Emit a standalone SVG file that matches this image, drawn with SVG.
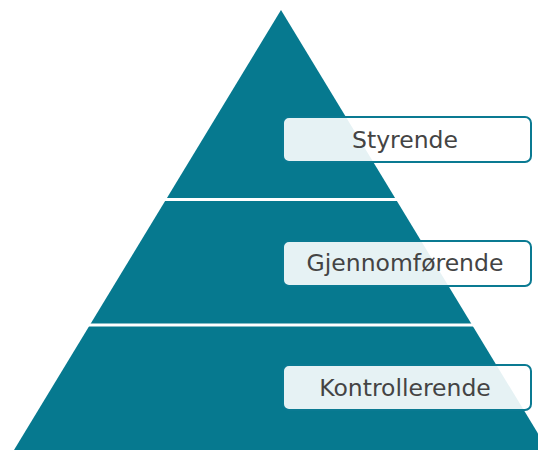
<svg xmlns="http://www.w3.org/2000/svg" width="538" height="450" viewBox="0 0 538 450">
<style>
.tier{fill:#06798f}
.sep{stroke:#fff;stroke-width:3}
.box{fill:#fff;fill-opacity:0.9;stroke:#0a7a92;stroke-width:2}
.lbl{font-family:"DejaVu Sans",sans-serif;font-size:23.5px;fill:#444;text-anchor:middle}
</style>
<rect width="538" height="450" fill="#fff"/>
<g id="pyramid">
<polygon class="tier" points="281,10 14,450 548,450"/>
</g>
<g id="connectors">
<line class="sep" x1="100" y1="199.5" x2="460" y2="199.5"/>
<line class="sep" x1="50" y1="325" x2="520" y2="325"/>
</g>
<g id="styrende">
<rect class="box" x="283" y="117" width="248" height="45" rx="6"/>
<text class="lbl" x="405" y="147.5">Styrende</text>
</g>
<g id="gjennomforende">
<rect class="box" x="283" y="241" width="248" height="45" rx="6"/>
<text class="lbl" x="405" y="271">Gjennomførende</text>
</g>
<g id="kontrollerende">
<rect class="box" x="283" y="365" width="248" height="45" rx="6"/>
<text class="lbl" x="405" y="395.5">Kontrollerende</text>
</g>
</svg>
